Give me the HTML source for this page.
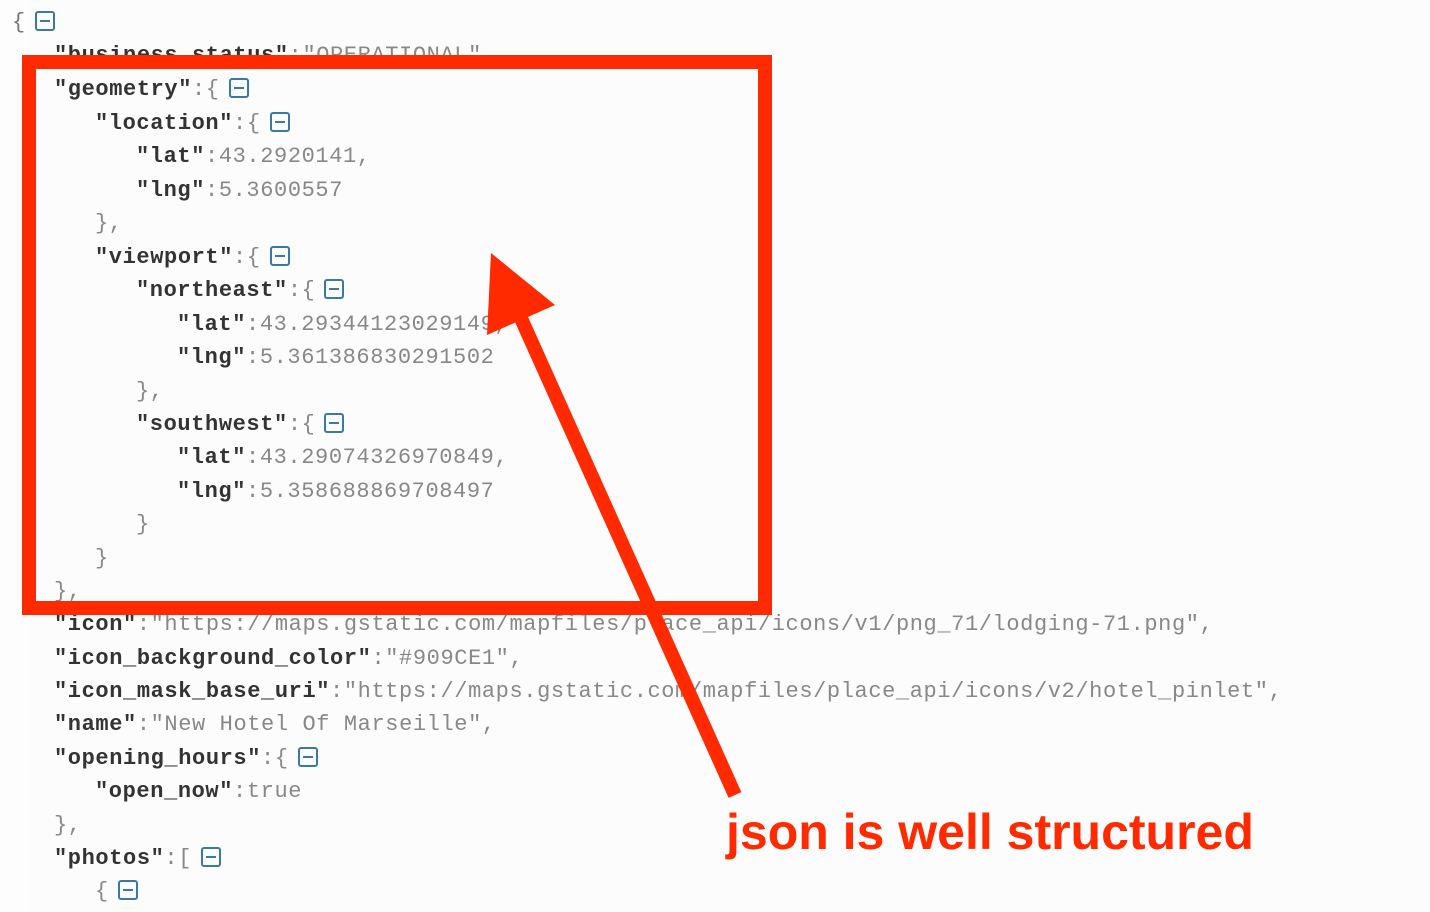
<!DOCTYPE html>
<html><head><meta charset="utf-8"><style>
html,body{margin:0;padding:0;width:1430px;height:912px;overflow:hidden;background:#fdfdfd}
.l{position:absolute;left:0;height:34px;line-height:34px;font-family:"Liberation Mono",monospace;font-size:22px;letter-spacing:0.6px;white-space:pre;color:#888;margin-top:2px}
.k{color:#333;font-weight:bold}
.p{color:#777}
.b{display:inline-block;width:20px;height:20px;border:2px solid #3a78a8;border-radius:3px;vertical-align:-3px;margin-left:9px;position:relative;box-sizing:border-box}
.b:after{content:"";position:absolute;left:3px;right:3px;top:7px;height:2px;background:#3a78a8}
</style></head><body>
<div style="position:absolute;left:30px;top:0;width:1400px;height:912px;background:#fcfcfc"></div>
<div class="l" style="top:4px;left:12px"><span class="p">{</span><span class="b"></span></div>
<div class="l" style="top:37px;left:54px"><span class="k">"business_status"</span>:"OPERATIONAL",</div>
<div class="l" style="top:71px;left:54px"><span class="k">"geometry"</span>:{<span class="b"></span></div>
<div class="l" style="top:105px;left:95px"><span class="k">"location"</span>:{<span class="b"></span></div>
<div class="l" style="top:138px;left:136px"><span class="k">"lat"</span>:43.2920141,</div>
<div class="l" style="top:172px;left:136px"><span class="k">"lng"</span>:5.3600557</div>
<div class="l" style="top:205px;left:95px">},</div>
<div class="l" style="top:239px;left:95px"><span class="k">"viewport"</span>:{<span class="b"></span></div>
<div class="l" style="top:272px;left:136px"><span class="k">"northeast"</span>:{<span class="b"></span></div>
<div class="l" style="top:306px;left:177px"><span class="k">"lat"</span>:43.29344123029149,</div>
<div class="l" style="top:339px;left:177px"><span class="k">"lng"</span>:5.361386830291502</div>
<div class="l" style="top:373px;left:136px">},</div>
<div class="l" style="top:406px;left:136px"><span class="k">"southwest"</span>:{<span class="b"></span></div>
<div class="l" style="top:439px;left:177px"><span class="k">"lat"</span>:43.29074326970849,</div>
<div class="l" style="top:473px;left:177px"><span class="k">"lng"</span>:5.358688869708497</div>
<div class="l" style="top:506px;left:136px">}</div>
<div class="l" style="top:540px;left:95px">}</div>
<div class="l" style="top:573px;left:54px">},</div>
<div class="l" style="top:606px;left:54px"><span class="k">"icon"</span>:"https://maps.gstatic.com/mapfiles/place_api/icons/v1/png_71/lodging-71.png",</div>
<div class="l" style="top:640px;left:54px"><span class="k">"icon_background_color"</span>:"#909CE1",</div>
<div class="l" style="top:673px;left:54px"><span class="k">"icon_mask_base_uri"</span>:"https://maps.gstatic.com/mapfiles/place_api/icons/v2/hotel_pinlet",</div>
<div class="l" style="top:706px;left:54px"><span class="k">"name"</span>:"New Hotel Of Marseille",</div>
<div class="l" style="top:740px;left:54px"><span class="k">"opening_hours"</span>:{<span class="b"></span></div>
<div class="l" style="top:773px;left:95px"><span class="k">"open_now"</span>:true</div>
<div class="l" style="top:807px;left:54px">},</div>
<div class="l" style="top:840px;left:54px"><span class="k">"photos"</span>:[<span class="b"></span></div>
<div class="l" style="top:873px;left:95px">{<span class="b"></span></div>
<svg width="1430" height="912" style="position:absolute;left:0;top:0">
<rect x="29" y="62" width="736" height="546" fill="none" stroke="#ff2a00" stroke-width="14"/>
<line x1="735" y1="795" x2="515" y2="305" stroke="#ff2a00" stroke-width="14"/>
<polygon points="491,253 487,335 555,305" fill="#ff2a00"/>
</svg>
<div style="position:absolute;left:726px;top:801px;font-family:'Liberation Sans',sans-serif;font-weight:bold;font-size:50px;color:#ff2a00;white-space:nowrap;line-height:62px">json is well structured</div>
</body></html>
